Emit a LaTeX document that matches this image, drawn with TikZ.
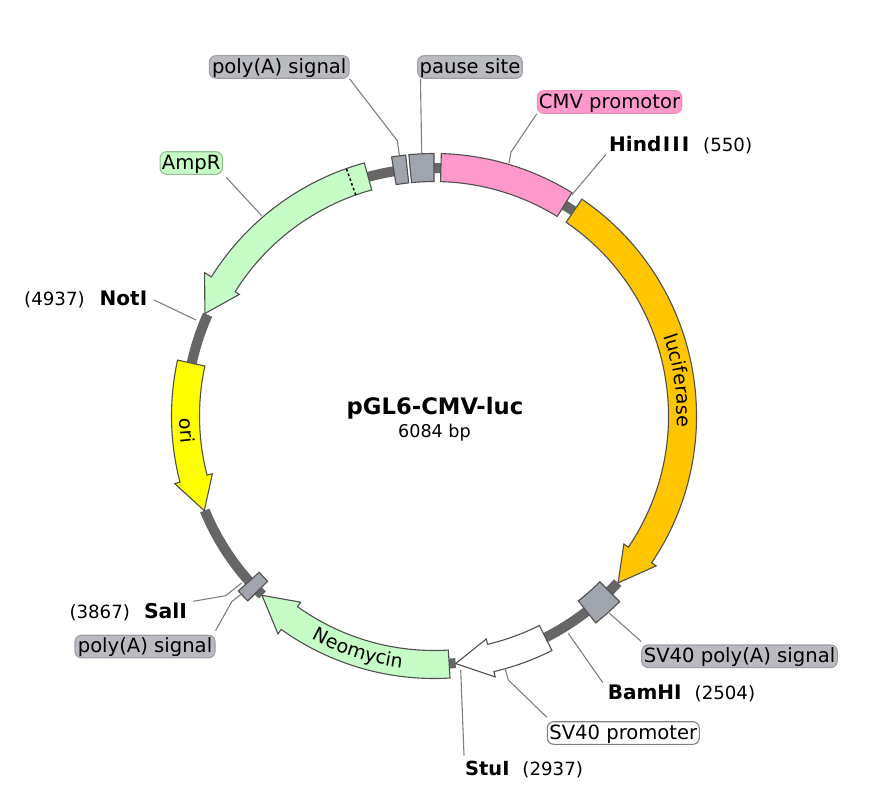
\documentclass[tikz,border=0pt]{standalone}
\usepackage{fontspec}
\setmainfont{DejaVu Sans}
\usetikzlibrary{decorations.text}
\definecolor{bbone}{HTML}{666666}
\definecolor{edgecol}{HTML}{4F4F4F}
\definecolor{leadcol}{HTML}{808080}
\definecolor{greybox}{HTML}{A0A4AC}
\definecolor{greylab}{HTML}{B9BBC1}
\definecolor{pinkf}{HTML}{FF99CC}
\definecolor{pinkb}{HTML}{E890BC}
\definecolor{greenf}{HTML}{C6FCC6}
\definecolor{greenb}{HTML}{93BD93}
\definecolor{orangef}{HTML}{FFC600}
\definecolor{yellowf}{HTML}{FFFF00}
\newcommand\fsarc{\fontsize{19}{23}\selectfont}
\newcommand\fslab{\fontsize{19.6}{23}\selectfont}
\newcommand\fsnum{\fontsize{18.2}{23}\selectfont}
\newcommand\enz[2][20]{{\fontsize{#1}{23}\selectfont\bfseries #2}}
\newcommand\rA{234.5}
\newcommand\rB{262.5}
\newcommand\seg[3]{\filldraw[feat,fill=#1] (#2:\rA) arc[start angle=#2,end angle=#3,radius=\rA] -- (#3:\rB) arc[start angle=#3,end angle=#2,radius=\rB] -- cycle;}
\newcommand\arr[4]{\filldraw[feat,fill=#1] (#2:\rA) arc[start angle=#2,end angle=#3,radius=\rA] -- (#3:229) -- (#4:248.5) -- (#3:268) -- (#3:\rB) arc[start angle=#3,end angle=#2,radius=\rB] -- cycle;}
\newcommand\bb[2]{\draw[backbone] (#1:248) arc[start angle=#1,end angle=#2,radius=248];}
\tikzset{
  feat/.style={draw=edgecol,line width=1.1pt,line join=miter},
  backbone/.style={draw=bbone,line width=10pt},
  leader/.style={draw=leadcol,line width=1.1pt},
  tag/.style={rectangle,rounded corners=6.5pt,inner sep=0pt,minimum height=22.6pt,text height=15pt,text depth=2.4pt,line width=1.1pt,font=\fslab,text=black},
  greytag/.style={tag,fill=greylab,draw=greylab!85!black},
  sitelab/.style={inner sep=0pt,font=\fsnum,text=black,anchor=base west},
}
\begin{document}
\begin{tikzpicture}[x=1pt,y=-1pt]
\useasboundingbox (0,0) rectangle (893,797);
\fill[white] (0,0) rectangle (893,797);
\begin{scope}[shift={(434,416)},y=1pt]
  % backbone pieces
  \bb{-85}{-86.5}
  \bb{-42.2}{-63.5}
  \bb{224.8}{226.2}
  \bb{202.4}{221.8}
  \bb{155.9}{167.7}
  \bb{99.3}{105.4}
  \bb{88.4}{95.5}
  \bb{58.3}{55.7}
  % features
  \seg{pinkf}{88.4}{58.3}
  \arr{orangef}{55.7}{-34}{-42.2}
  \seg{greybox}{-45}{-52}
  \arr{white}{-63.3}{-76.8}{-85}
  \arr{greenf}{-86.5}{-125.6}{-133.8}
  \seg{greybox}{221.8}{224.8}
  \arr{yellowf}{167.7}{194.6}{202.4}
  \filldraw[feat,fill=greenf] (105.4:\rA) arc[start angle=105.4,end angle=148,radius=\rA] -- (148:229.5) -- (155.9:251) -- (148:270.5) -- (148:\rB) arc[start angle=148,end angle=105.4,radius=\rB] -- cycle;
  \seg{greybox}{96.2}{99.3}
  \seg{greybox}{90}{95.5}
  \draw[black,line width=1.5pt,dash pattern=on 2.5pt off 2.5pt] (109.5:\rA) -- (109.5:\rB);
  % lettering along the features
  \path[decorate,decoration={text along path,text={|\fsarc|luciferase},text align=center}]
     (28.3:243) arc[start angle=28.3,end angle=-11.7,radius=243];
  \path[decorate,decoration={text along path,text={|\fsarc|ori},text align=center}]
     (173.4:254) arc[start angle=173.4,end angle=193.4,radius=254];
  \path[decorate,decoration={text along path,text={|\fsarc|Neomycin},text align=center}]
     (-128:254) arc[start angle=-128,end angle=-88,radius=254];
\end{scope}
% centre title
\node[inner sep=0pt,font=\fontsize{22.7}{27}\selectfont\bfseries] (title) at (435,408.5) {pGL6-CMV-luc};
\node[inner sep=0pt,font=\fontsize{17.6}{20}\selectfont] (size) at (434.5,433) {6084 bp};
% tagged labels
\node[greytag,minimum width=139.7pt] (polyTop) at (279.2,67) {poly(A) signal};
\node[greytag,minimum width=104.6pt] (pause) at (470,67) {pause site};
\node[tag,fill=pinkf,draw=pinkb,minimum width=144.4pt] (cmv) at (609.5,102) {CMV promotor};
\node[tag,fill=greenf,draw=greenb,minimum width=62.3pt] (amp) at (191.2,163) {AmpR};
\node[greytag,minimum width=195.6pt] (svpa) at (739.5,656.3) {SV40 poly(A) signal};
\node[tag,fill=white,draw=leadcol,minimum width=152pt] (svp) at (623.3,733) {SV40 promoter};
\node[greytag,minimum width=140pt] (polyLow) at (145,646.5) {poly(A) signal};
% restriction sites
\node[sitelab] (hind) at (609,151.7) {\enz{Hind\kern1.5pt I\kern2pt I\kern2pt I}\hspace{14pt}(550)};
\node[sitelab] (bam) at (607.7,699.3) {\enz{BamHI}\hspace{13pt}(2504)};
\node[sitelab] (stu) at (465,775) {\enz[19.4]{StuI}\hspace{13pt}(2937)};
\node[sitelab] (noti) at (24,305) {(4937)\hspace{15pt}\enz{NotI}};
\node[sitelab] (sal) at (69.3,618) {(3867)\hspace{14pt}\enz[20.4]{SalI}};
% leader elbows and feet
\coordinate (cmvA) at (511,152);  \coordinate (cmvB) at (509,163);
\coordinate (hindB) at (571.7,195);
\coordinate (ptA) at (397.3,140.7); \coordinate (ptB) at (399.3,155);
\coordinate (pauseB) at (421.7,153);
\coordinate (ampB) at (261.7,215.7);
\coordinate (notB) at (196,320);
\coordinate (salA) at (225.7,595.7); \coordinate (salB) at (241.7,583);
\coordinate (plA) at (231.7,601.7); \coordinate (plB) at (242.7,593);
\coordinate (svpaB) at (608.3,612.3);
\coordinate (bamB) at (568.3,633.3);
\coordinate (svpA) at (508.3,680); \coordinate (svpB) at (505,668);
\coordinate (stuB) at (460.7,670);
\draw[leader] (cmv.south west) -- (cmvA) -- (cmvB);
\draw[leader] ([xshift=-3pt]hind.south west) -- (hindB);
\draw[leader] (polyTop.south east) -- (ptA) -- (ptB);
\draw[leader] ([xshift=3.3pt]pause.south west) -- (pauseB);
\draw[leader] ([xshift=3.4pt,yshift=-2.6pt]amp.south east) -- (ampB);
\draw[leader] ([xshift=6.5pt,yshift=-1pt]noti.east) -- (notB);
\draw[leader] ([xshift=6pt,yshift=1pt]sal.north east) -- (salA) -- (salB);
\draw[leader] ([yshift=4pt]polyLow.north east) -- (plA) -- (plB);
\draw[leader] ([yshift=3pt]svpa.north west) -- (svpaB);
\draw[leader] ([xshift=-5pt,yshift=2pt]bam.north west) -- (bamB);
\draw[leader] ([yshift=4pt]svp.north west) -- (svpA) -- (svpB);
\draw[leader] ([xshift=-1pt,yshift=5pt]stu.north west) -- (stuB);
\end{tikzpicture}
\end{document}
